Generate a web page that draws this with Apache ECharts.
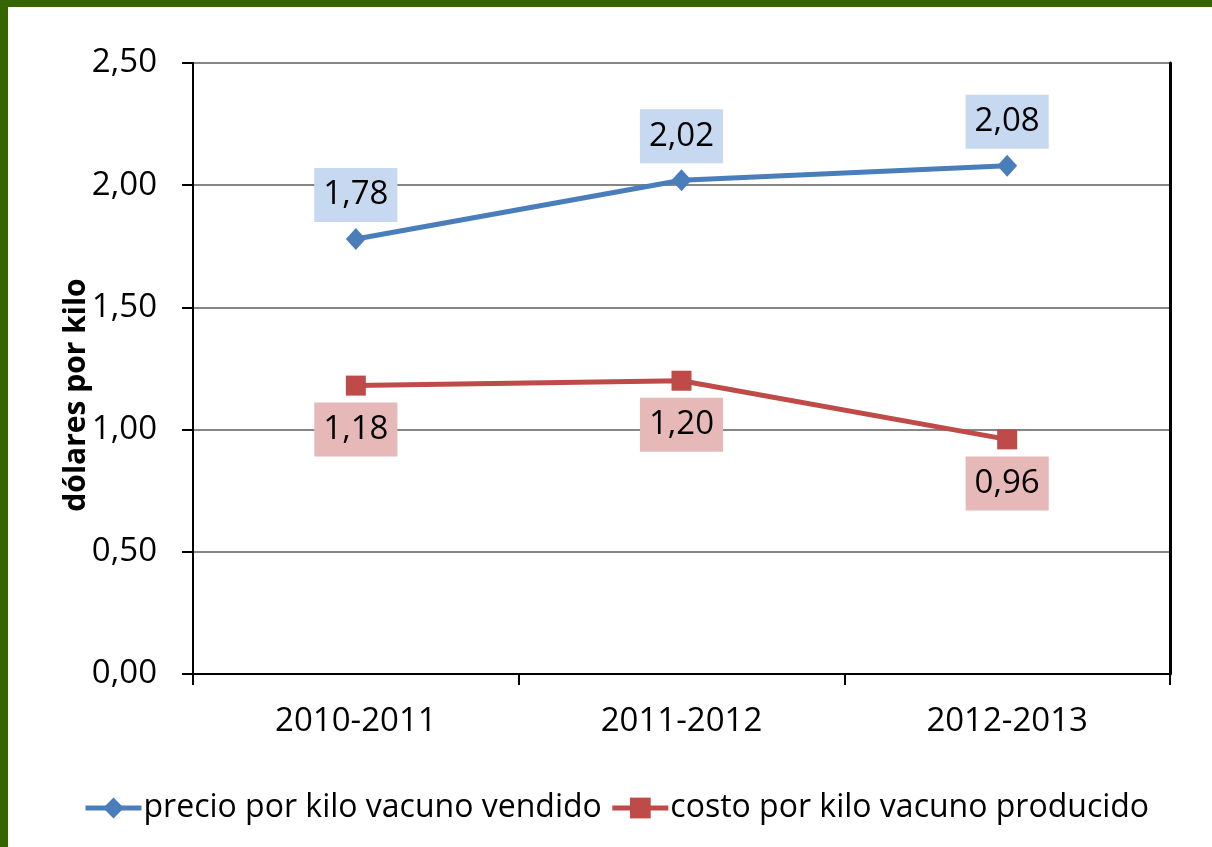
<!DOCTYPE html>
<html>
<head>
<meta charset="utf-8">
<script src="https://cdn.jsdelivr.net/npm/echarts@6/dist/echarts.min.js"></script>
<style>
html,body{margin:0;padding:0;background:#fff;}
#wrap{position:relative;width:1212px;height:847px;overflow:hidden;}
#chart{position:absolute;left:0;top:0;width:1212px;height:847px;}
.gb{position:absolute;background:#346500;}
</style>
</head>
<body>
<div id="wrap">
<div id="chart"></div>
<div class="gb" style="left:0;top:0;width:1212px;height:7px;"></div>
<div class="gb" style="left:0;top:0;width:8px;height:847px;"></div>
</div>
<script>
const categories = ['2010-2011', '2011-2012', '2012-2013'];
const precioVendido = [1.78, 2.02, 2.08];
const costoProducido = [1.18, 1.20, 0.96];
const seriesNames = ['precio por kilo vacuno vendido', 'costo por kilo vacuno producido'];
const yAxisTitle = 'dólares por kilo';

const FONT = '"Open Sans", "Liberation Sans", sans-serif';
const fmt = v => Number(v).toFixed(2).replace('.', ',');

const chart = echarts.init(document.getElementById('chart'), null, {renderer: 'canvas'});
chart.setOption({
  animation: false,
  backgroundColor: '#ffffff',
  textStyle: {fontFamily: FONT, color: '#000'},
  grid: {left: 193, top: 63, right: 42, bottom: 173, containLabel: false},
  graphic: [{
    type: 'text', x: 76, y: 395, rotation: Math.PI / 2,
    style: {
      text: yAxisTitle, fontFamily: FONT, fontSize: 30, fontWeight: 'bold',
      fill: '#000', align: 'center', verticalAlign: 'middle'
    }
  }],
  legend: {
    top: 787, left: 78,
    itemWidth: 56, itemHeight: 26, itemGap: 8,
    lineStyle: {width: 5},
    textStyle: {fontFamily: FONT, fontSize: 32, color: '#000', padding: [0, 0, 0, -3]},
    data: seriesNames
  },
  xAxis: {
    type: 'category', data: categories, boundaryGap: true,
    axisLine: {lineStyle: {color: '#000', width: 2}},
    axisTick: {show: true, length: 11, lineStyle: {color: '#000', width: 2}},
    axisLabel: {margin: 31, fontFamily: FONT, fontSize: 33, color: '#000'}
  },
  yAxis: [{
    type: 'value', min: 0, max: 2.5, interval: 0.5,
    axisLine: {show: true, lineStyle: {color: '#000', width: 2}},
    axisTick: {show: true, length: 11, lineStyle: {color: '#000', width: 2}},
    axisLabel: {margin: 36, fontFamily: FONT, fontSize: 33, color: '#000', formatter: fmt},
    splitLine: {show: true, lineStyle: {color: '#868686', width: 2}}
  }, {
    type: 'value', min: 0, max: 2.5, interval: 0.5, position: 'right',
    axisLine: {show: true, lineStyle: {color: '#000', width: 3}},
    axisTick: {show: false}, axisLabel: {show: false}, splitLine: {show: false}
  }],
  series: [{
    name: seriesNames[0], type: 'line', data: precioVendido,
    symbol: 'diamond', symbolSize: [20, 22],
    lineStyle: {color: '#4a7ebb', width: 5},
    itemStyle: {color: '#4a7ebb'},
    label: {
      show: true, position: 'top', distance: 6, formatter: p => fmt(p.value),
      fontFamily: FONT, fontSize: 33, color: '#000',
      backgroundColor: '#c6d9f1', padding: [8, 9, 8, 9], lineHeight: 38
    }
  }, {
    name: seriesNames[1], type: 'line', data: costoProducido,
    symbol: 'rect', symbolSize: 20,
    lineStyle: {color: '#be4b48', width: 5},
    itemStyle: {color: '#be4b48'},
    label: {
      show: true, position: 'bottom', distance: 7, formatter: p => fmt(p.value),
      fontFamily: FONT, fontSize: 33, color: '#000',
      backgroundColor: '#e6b9b8', padding: [8, 9, 8, 9], lineHeight: 38
    }
  }]
});
</script>
</body>
</html>
